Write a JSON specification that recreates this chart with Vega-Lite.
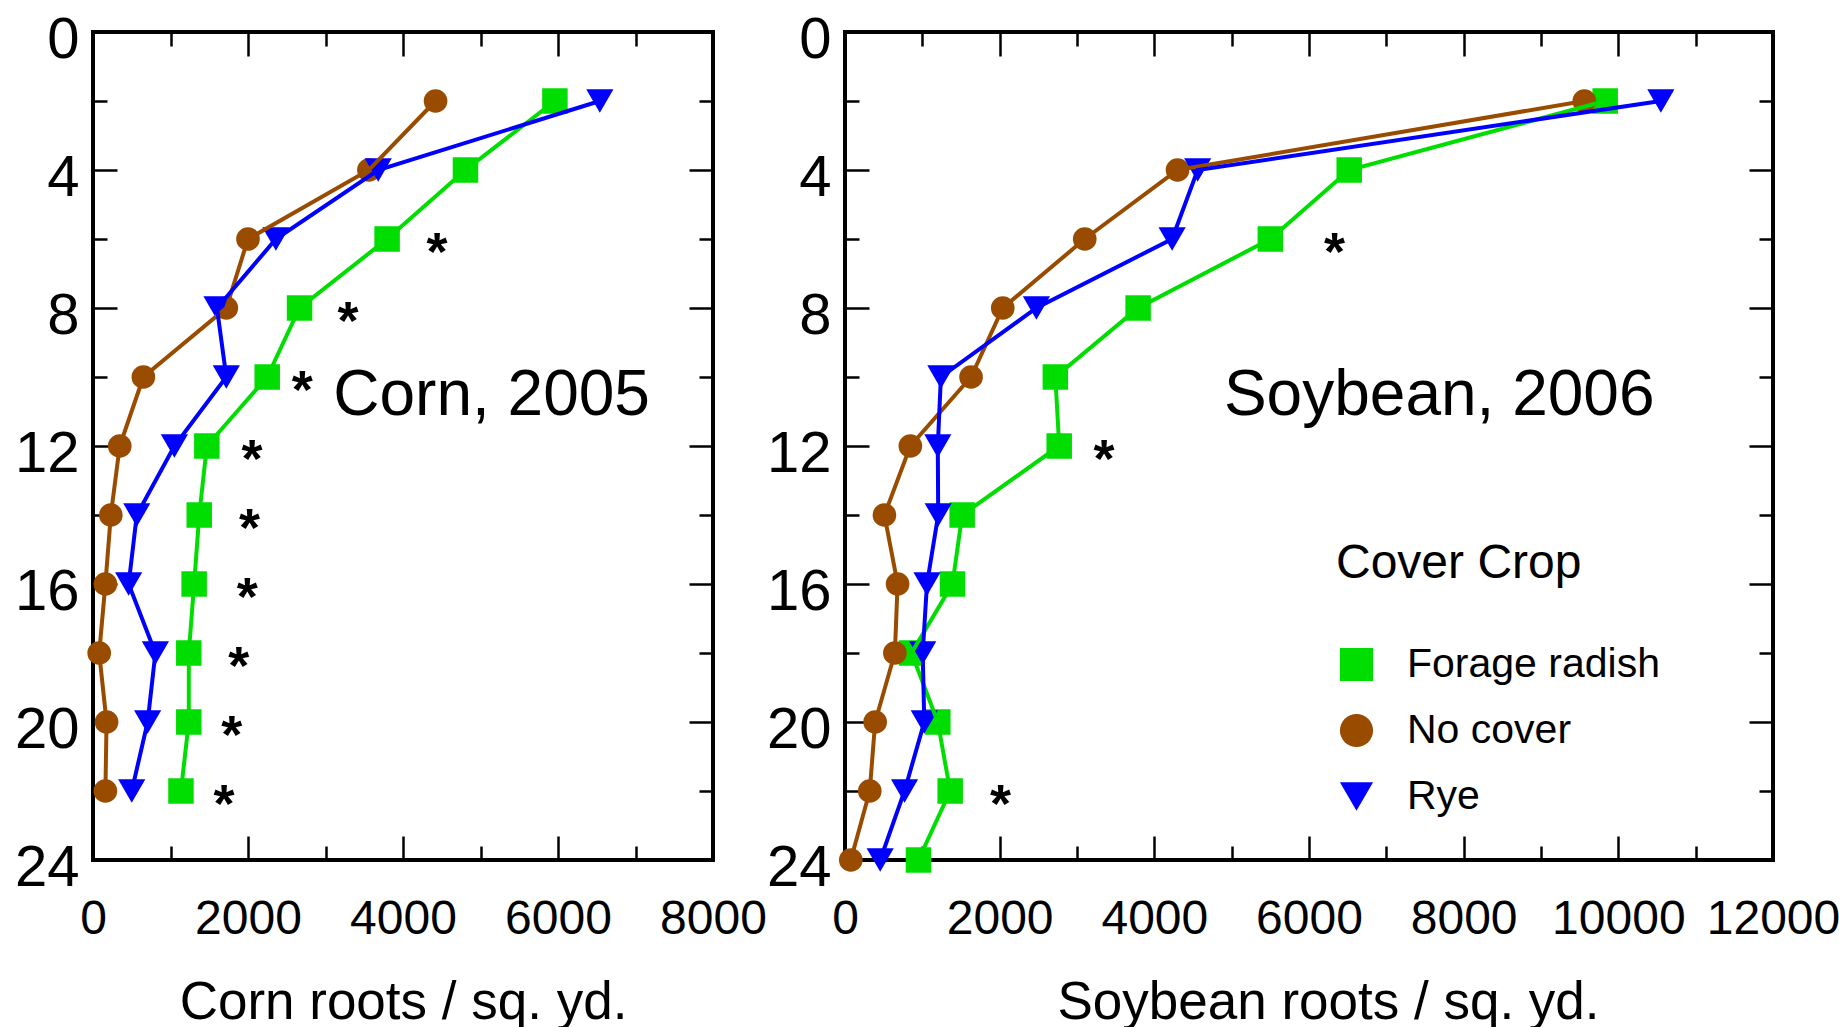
{
  "$schema": "https://vega.github.io/schema/vega-lite/v6.json",
  "padding": {"left": 12, "top": 9, "right": 5, "bottom": 5},
  "background": "white",
  "datasets": {
    "roots": [
      {"crop": "Corn", "series": "Forage radish", "depth": 2, "roots": 5960},
      {"crop": "Corn", "series": "Forage radish", "depth": 4, "roots": 4806},
      {"crop": "Corn", "series": "Forage radish", "depth": 6, "roots": 3795},
      {"crop": "Corn", "series": "Forage radish", "depth": 8, "roots": 2665},
      {"crop": "Corn", "series": "Forage radish", "depth": 10, "roots": 2248},
      {"crop": "Corn", "series": "Forage radish", "depth": 12, "roots": 1469},
      {"crop": "Corn", "series": "Forage radish", "depth": 14, "roots": 1371},
      {"crop": "Corn", "series": "Forage radish", "depth": 16, "roots": 1305},
      {"crop": "Corn", "series": "Forage radish", "depth": 18, "roots": 1236},
      {"crop": "Corn", "series": "Forage radish", "depth": 20, "roots": 1236},
      {"crop": "Corn", "series": "Forage radish", "depth": 22, "roots": 1135},
      {"crop": "Corn", "series": "No cover", "depth": 2, "roots": 4420},
      {"crop": "Corn", "series": "No cover", "depth": 4, "roots": 3560},
      {"crop": "Corn", "series": "No cover", "depth": 6, "roots": 2000},
      {"crop": "Corn", "series": "No cover", "depth": 8, "roots": 1720},
      {"crop": "Corn", "series": "No cover", "depth": 10, "roots": 650},
      {"crop": "Corn", "series": "No cover", "depth": 12, "roots": 345},
      {"crop": "Corn", "series": "No cover", "depth": 14, "roots": 230},
      {"crop": "Corn", "series": "No cover", "depth": 16, "roots": 160},
      {"crop": "Corn", "series": "No cover", "depth": 18, "roots": 80},
      {"crop": "Corn", "series": "No cover", "depth": 20, "roots": 175},
      {"crop": "Corn", "series": "No cover", "depth": 22, "roots": 160},
      {"crop": "Corn", "series": "Rye", "depth": 2, "roots": 6540},
      {"crop": "Corn", "series": "Rye", "depth": 4, "roots": 3680},
      {"crop": "Corn", "series": "Rye", "depth": 6, "roots": 2360},
      {"crop": "Corn", "series": "Rye", "depth": 8, "roots": 1600},
      {"crop": "Corn", "series": "Rye", "depth": 10, "roots": 1720},
      {"crop": "Corn", "series": "Rye", "depth": 12, "roots": 1050},
      {"crop": "Corn", "series": "Rye", "depth": 14, "roots": 565},
      {"crop": "Corn", "series": "Rye", "depth": 16, "roots": 460},
      {"crop": "Corn", "series": "Rye", "depth": 18, "roots": 805},
      {"crop": "Corn", "series": "Rye", "depth": 20, "roots": 705},
      {"crop": "Corn", "series": "Rye", "depth": 22, "roots": 500},
      {"crop": "Soybean", "series": "Forage radish", "depth": 2, "roots": 9830},
      {"crop": "Soybean", "series": "Forage radish", "depth": 4, "roots": 6520},
      {"crop": "Soybean", "series": "Forage radish", "depth": 6, "roots": 5500},
      {"crop": "Soybean", "series": "Forage radish", "depth": 8, "roots": 3790},
      {"crop": "Soybean", "series": "Forage radish", "depth": 10, "roots": 2720},
      {"crop": "Soybean", "series": "Forage radish", "depth": 12, "roots": 2770},
      {"crop": "Soybean", "series": "Forage radish", "depth": 14, "roots": 1515},
      {"crop": "Soybean", "series": "Forage radish", "depth": 16, "roots": 1390},
      {"crop": "Soybean", "series": "Forage radish", "depth": 18, "roots": 860},
      {"crop": "Soybean", "series": "Forage radish", "depth": 20, "roots": 1200},
      {"crop": "Soybean", "series": "Forage radish", "depth": 22, "roots": 1360},
      {"crop": "Soybean", "series": "Forage radish", "depth": 24, "roots": 950},
      {"crop": "Soybean", "series": "No cover", "depth": 2, "roots": 9560},
      {"crop": "Soybean", "series": "No cover", "depth": 4, "roots": 4300},
      {"crop": "Soybean", "series": "No cover", "depth": 6, "roots": 3100},
      {"crop": "Soybean", "series": "No cover", "depth": 8, "roots": 2040},
      {"crop": "Soybean", "series": "No cover", "depth": 10, "roots": 1630},
      {"crop": "Soybean", "series": "No cover", "depth": 12, "roots": 845},
      {"crop": "Soybean", "series": "No cover", "depth": 14, "roots": 510},
      {"crop": "Soybean", "series": "No cover", "depth": 16, "roots": 680},
      {"crop": "Soybean", "series": "No cover", "depth": 18, "roots": 645},
      {"crop": "Soybean", "series": "No cover", "depth": 20, "roots": 390},
      {"crop": "Soybean", "series": "No cover", "depth": 22, "roots": 320},
      {"crop": "Soybean", "series": "No cover", "depth": 24, "roots": 75},
      {"crop": "Soybean", "series": "Rye", "depth": 2, "roots": 10550},
      {"crop": "Soybean", "series": "Rye", "depth": 4, "roots": 4560},
      {"crop": "Soybean", "series": "Rye", "depth": 6, "roots": 4230},
      {"crop": "Soybean", "series": "Rye", "depth": 8, "roots": 2475},
      {"crop": "Soybean", "series": "Rye", "depth": 10, "roots": 1240},
      {"crop": "Soybean", "series": "Rye", "depth": 12, "roots": 1200},
      {"crop": "Soybean", "series": "Rye", "depth": 14, "roots": 1205},
      {"crop": "Soybean", "series": "Rye", "depth": 16, "roots": 1060},
      {"crop": "Soybean", "series": "Rye", "depth": 18, "roots": 1005},
      {"crop": "Soybean", "series": "Rye", "depth": 20, "roots": 1025},
      {"crop": "Soybean", "series": "Rye", "depth": 22, "roots": 770},
      {"crop": "Soybean", "series": "Rye", "depth": 24, "roots": 455}
    ],
    "stars": [
      {"crop": "Corn", "depth": 6, "x": 4440},
      {"crop": "Corn", "depth": 8, "x": 3290},
      {"crop": "Corn", "depth": 10, "x": 2700},
      {"crop": "Corn", "depth": 12, "x": 2050},
      {"crop": "Corn", "depth": 14, "x": 2020},
      {"crop": "Corn", "depth": 16, "x": 1990},
      {"crop": "Corn", "depth": 18, "x": 1880},
      {"crop": "Corn", "depth": 20, "x": 1790},
      {"crop": "Corn", "depth": 22, "x": 1690},
      {"crop": "Soybean", "depth": 6, "x": 6330},
      {"crop": "Soybean", "depth": 12, "x": 3350},
      {"crop": "Soybean", "depth": 22, "x": 2010}
    ],
    "notes": [
      {"crop": "Corn", "label": "Corn, 2005", "x": 3100, "depth": 11.1},
      {"crop": "Soybean", "label": "Soybean, 2006", "x": 4900, "depth": 11.1}
    ]
  },
  "bounds": "flush",
  "spacing": 132,
  "resolve": {"legend": {"color": "independent", "shape": "independent", "size": "independent"}},
  "hconcat": [
    {
      "width": 620,
      "height": 828,
      "resolve": {"axis": {"x": "independent", "y": "independent"}},
      "layer": [
        {
          "data": {"name": "roots"},
          "transform": [{"filter": "datum.crop === 'Corn'"}],
          "mark": {"type": "point", "filled": true, "opacity": 1},
          "encoding": {
            "x": {"field": "roots", "type": "quantitative", "scale": {"domain": [0, 8000], "nice": false},
              "axis": {"orient": "top", "values": [0, 2000, 4000, 6000, 8000], "tickSize": -24, "labels": false, "title": null}},
            "y": {"field": "depth", "type": "quantitative", "scale": {"domain": [0, 24], "reverse": true, "nice": false},
              "axis": {"orient": "right", "values": [0, 4, 8, 12, 16, 20, 24], "tickSize": -24, "labels": false, "title": null}},
            "color": {"field": "series", "type": "nominal", "scale": {"domain": ["Forage radish", "No cover", "Rye"], "range": ["#00DD00", "#994C00", "#0000FF"]}, "legend": null},
            "shape": {"field": "series", "type": "nominal", "scale": {"domain": ["Forage radish", "No cover", "Rye"], "range": ["square", "circle", "triangle-down"]}, "legend": null},
            "size": {"field": "series", "type": "nominal", "scale": {"domain": ["Rye", "Forage radish", "No cover"], "range": [740, 560, 380]}, "legend": null}
          }
        },
        {
          "data": {"name": "roots"},
          "transform": [{"filter": "datum.crop === 'Corn'"}],
          "mark": {"type": "line", "strokeWidth": 4},
          "encoding": {
            "x": {"field": "roots", "type": "quantitative", "scale": {"domain": [0, 8000], "nice": false},
              "axis": {"orient": "bottom", "values": [0, 2000, 4000, 6000, 8000], "format": "d", "tickSize": -24, "labelPadding": 59, "labelFontSize": 48, "title": "Corn roots / sq. yd.", "titleFontSize": 53, "titleBaseline": "alphabetic", "titleY": 158}},
            "y": {"field": "depth", "type": "quantitative", "scale": {"domain": [0, 24], "reverse": true, "nice": false},
              "axis": {"orient": "left", "values": [0, 4, 8, 12, 16, 20, 24], "tickSize": -24, "labelPadding": 38, "labelFontSize": 58, "labelOffset": 8, "title": null}},
            "color": {"field": "series", "type": "nominal", "scale": {"domain": ["Forage radish", "No cover", "Rye"], "range": ["#00DD00", "#994C00", "#0000FF"]}, "legend": null},
            "order": {"field": "depth", "type": "quantitative"}
          }
        },
        {
          "data": {"name": "stars"},
          "transform": [{"filter": "datum.crop === 'Corn'"}],
          "mark": {"type": "text", "text": "*", "font": "Liberation Sans", "fontSize": 54, "fontWeight": "bold", "baseline": "alphabetic", "align": "center", "dy": 31, "color": "black"},
          "encoding": {
            "x": {"field": "x", "type": "quantitative", "scale": {"domain": [0, 8000], "nice": false},
              "axis": {"orient": "bottom", "values": [1000, 3000, 5000, 7000], "tickSize": -14, "labels": false, "title": null}},
            "y": {"field": "depth", "type": "quantitative", "scale": {"domain": [0, 24], "reverse": true, "nice": false},
              "axis": {"orient": "left", "values": [2, 6, 10, 14, 18, 22], "tickSize": -14, "labels": false, "title": null}}
          }
        },
        {
          "data": {"name": "notes"},
          "transform": [{"filter": "datum.crop === 'Corn'"}],
          "mark": {"type": "text", "font": "Liberation Sans", "fontSize": 64, "baseline": "alphabetic", "align": "left", "color": "black"},
          "encoding": {
            "text": {"field": "label"},
            "x": {"field": "x", "type": "quantitative", "scale": {"domain": [0, 8000], "nice": false},
              "axis": {"orient": "top", "values": [1000, 3000, 5000, 7000], "tickSize": -14, "labels": false, "title": null}},
            "y": {"field": "depth", "type": "quantitative", "scale": {"domain": [0, 24], "reverse": true, "nice": false},
              "axis": {"orient": "right", "values": [2, 6, 10, 14, 18, 22], "tickSize": -14, "labels": false, "title": null}}
          }
        }
      ]
    },
    {
      "width": 928,
      "height": 828,
      "resolve": {"axis": {"x": "independent", "y": "independent"}},
      "layer": [
        {
          "data": {"name": "roots"},
          "transform": [{"filter": "datum.crop === 'Soybean'"}],
          "mark": {"type": "point", "filled": true, "opacity": 1},
          "encoding": {
            "x": {"field": "roots", "type": "quantitative", "scale": {"domain": [0, 12000], "nice": false},
              "axis": {"orient": "top", "values": [0, 2000, 4000, 6000, 8000, 10000, 12000], "tickSize": -24, "labels": false, "title": null}},
            "y": {"field": "depth", "type": "quantitative", "scale": {"domain": [0, 24], "reverse": true, "nice": false},
              "axis": {"orient": "right", "values": [0, 4, 8, 12, 16, 20, 24], "tickSize": -24, "labels": false, "title": null}},
            "color": {"field": "series", "type": "nominal", "scale": {"domain": ["Forage radish", "No cover", "Rye"], "range": ["#00DD00", "#994C00", "#0000FF"]},
              "legend": {"title": "Cover Crop", "orient": "none", "legendX": 491, "legendY": 508, "direction": "vertical", "padding": 0, "symbolSize": 1100, "symbolStrokeWidth": 0, "labelFontSize": 41, "labelOffset": 30, "rowPadding": 24, "titleFontSize": 48, "titlePadding": 56, "labelLimit": 600, "titleLimit": 600}},
            "shape": {"field": "series", "type": "nominal", "scale": {"domain": ["Forage radish", "No cover", "Rye"], "range": ["square", "circle", "triangle-down"]},
              "legend": {"title": "Cover Crop", "orient": "none", "legendX": 491, "legendY": 508, "direction": "vertical", "padding": 0, "symbolSize": 1100, "symbolStrokeWidth": 0, "labelFontSize": 41, "labelOffset": 30, "rowPadding": 24, "titleFontSize": 48, "titlePadding": 56, "labelLimit": 600, "titleLimit": 600}},
            "size": {"field": "series", "type": "nominal", "scale": {"domain": ["Rye", "Forage radish", "No cover"], "range": [740, 560, 380]}, "legend": null}
          }
        },
        {
          "data": {"name": "roots"},
          "transform": [{"filter": "datum.crop === 'Soybean'"}],
          "mark": {"type": "line", "strokeWidth": 4},
          "encoding": {
            "x": {"field": "roots", "type": "quantitative", "scale": {"domain": [0, 12000], "nice": false},
              "axis": {"orient": "bottom", "values": [0, 2000, 4000, 6000, 8000, 10000, 12000], "format": "d", "tickSize": -24, "labelPadding": 59, "labelFontSize": 48, "title": "Soybean roots / sq. yd.", "titleFontSize": 53, "titleBaseline": "alphabetic", "titleY": 158, "titleX": 483}},
            "y": {"field": "depth", "type": "quantitative", "scale": {"domain": [0, 24], "reverse": true, "nice": false},
              "axis": {"orient": "left", "values": [0, 4, 8, 12, 16, 20, 24], "tickSize": -24, "labelPadding": 38, "labelFontSize": 58, "labelOffset": 8, "title": null}},
            "color": {"field": "series", "type": "nominal", "scale": {"domain": ["Forage radish", "No cover", "Rye"], "range": ["#00DD00", "#994C00", "#0000FF"]}, "legend": null},
            "order": {"field": "depth", "type": "quantitative"}
          }
        },
        {
          "data": {"name": "stars"},
          "transform": [{"filter": "datum.crop === 'Soybean'"}],
          "mark": {"type": "text", "text": "*", "font": "Liberation Sans", "fontSize": 54, "fontWeight": "bold", "baseline": "alphabetic", "align": "center", "dy": 31, "color": "black"},
          "encoding": {
            "x": {"field": "x", "type": "quantitative", "scale": {"domain": [0, 12000], "nice": false},
              "axis": {"orient": "bottom", "values": [1000, 3000, 5000, 7000, 9000, 11000], "tickSize": -14, "labels": false, "title": null}},
            "y": {"field": "depth", "type": "quantitative", "scale": {"domain": [0, 24], "reverse": true, "nice": false},
              "axis": {"orient": "left", "values": [2, 6, 10, 14, 18, 22], "tickSize": -14, "labels": false, "title": null}}
          }
        },
        {
          "data": {"name": "notes"},
          "transform": [{"filter": "datum.crop === 'Soybean'"}],
          "mark": {"type": "text", "font": "Liberation Sans", "fontSize": 64, "baseline": "alphabetic", "align": "left", "color": "black"},
          "encoding": {
            "text": {"field": "label"},
            "x": {"field": "x", "type": "quantitative", "scale": {"domain": [0, 12000], "nice": false},
              "axis": {"orient": "top", "values": [1000, 3000, 5000, 7000, 9000, 11000], "tickSize": -14, "labels": false, "title": null}},
            "y": {"field": "depth", "type": "quantitative", "scale": {"domain": [0, 24], "reverse": true, "nice": false},
              "axis": {"orient": "right", "values": [2, 6, 10, 14, 18, 22], "tickSize": -14, "labels": false, "title": null}}
          }
        }
      ]
    }
  ],
  "config": {
    "font": "Liberation Sans",
    "view": {"stroke": "black", "strokeWidth": 4},
    "axis": {"domain": false, "grid": false, "tickColor": "black", "tickWidth": 2.5, "labelFont": "Liberation Sans", "labelColor": "black", "titleFont": "Liberation Sans", "titleColor": "black", "titleFontWeight": "normal", "labelFlush": false, "labelOverlap": false, "titleLimit": 1000},
    "legend": {"labelFont": "Liberation Sans", "titleFont": "Liberation Sans", "labelColor": "black", "titleColor": "black", "titleFontWeight": "normal"}
  }
}
